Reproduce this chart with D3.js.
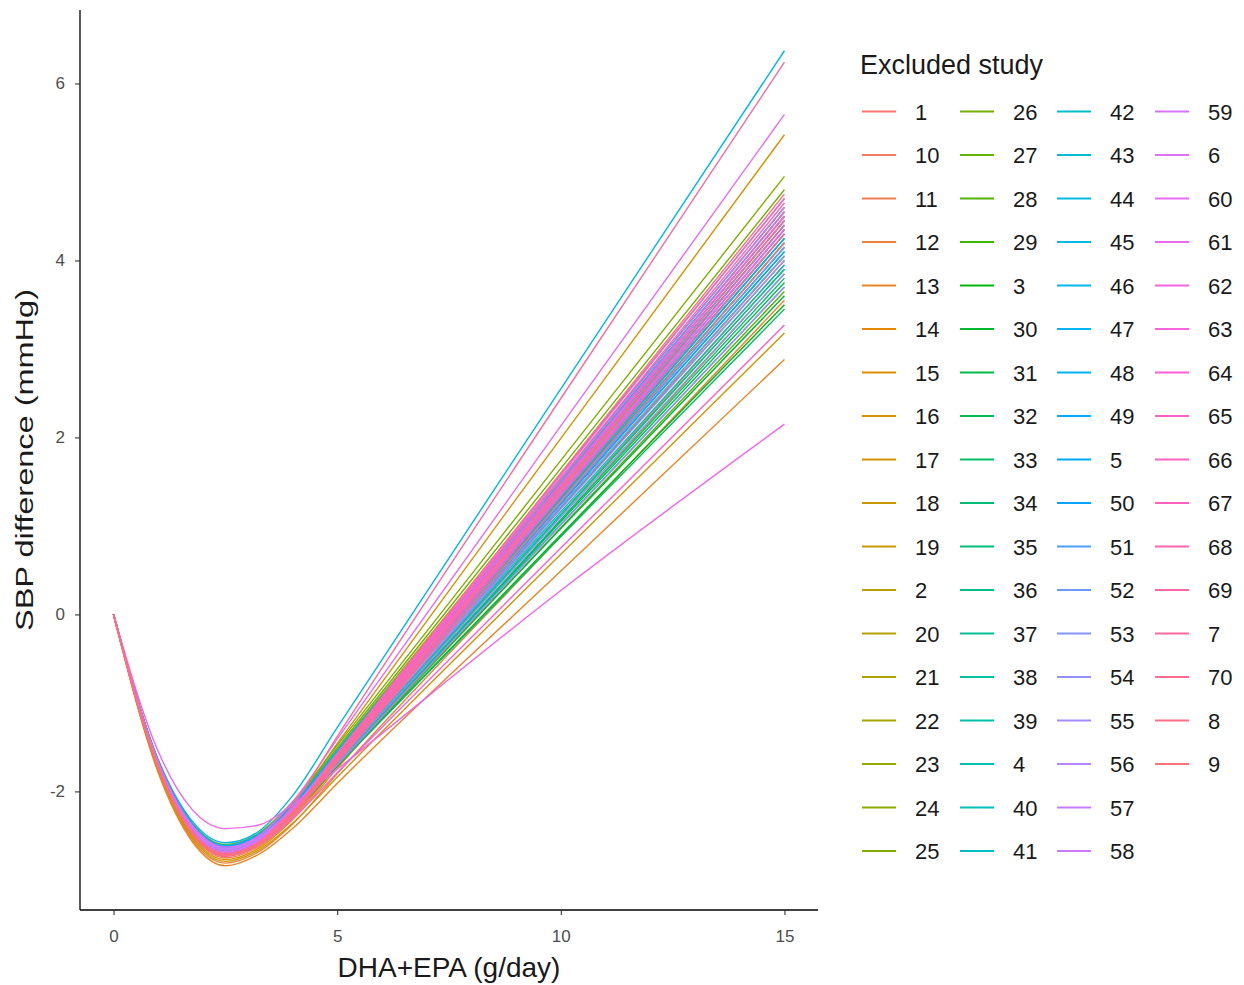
<!DOCTYPE html>
<html>
<head>
<meta charset="utf-8">
<script src="https://cdn.jsdelivr.net/npm/d3@7"></script>
<style>
  body { margin: 0; background: #fff; }
  text { font-family: "Liberation Sans", Arial, sans-serif; }
</style>
</head>
<body>
<div id="chart"></div>
<script>
var doseKnots = [0, 1, 1.75, 2.5, 3.25, 4, 5, 10, 15];

// factor levels, in the (string-sorted) order ggplot uses
var studies = ["1","10","11","12","13","14","15","16","17","18","19","2","20","21","22","23","24","25",
  "26","27","28","29","3","30","31","32","33","34","35","36","37","38","39","4","40","41",
  "42","43","44","45","46","47","48","49","5","50","51","52","53","54","55","56","57","58",
  "59","6","60","61","62","63","64","65","66","67","68","69","7","70","8","9"];

// SBP difference at each knot, one row per excluded study (same order as studies)
var sbpCurves = [
  [0,-1.70,-2.42,-2.68,-2.55,-2.23,-1.64,1.27,4.15],  // 1
  [0,-1.73,-2.47,-2.73,-2.60,-2.28,-1.69,1.20,4.05],  // 10
  [0,-1.74,-2.48,-2.75,-2.62,-2.30,-1.71,1.13,3.95],  // 11
  [0,-1.77,-2.54,-2.81,-2.68,-2.37,-1.80,0.88,3.55],  // 12
  [0,-1.79,-2.56,-2.84,-2.71,-2.42,-1.91,0.49,2.88],  // 13
  [0,-1.70,-2.42,-2.68,-2.55,-2.22,-1.61,1.41,4.40],  // 14
  [0,-1.75,-2.50,-2.77,-2.64,-2.32,-1.74,1.07,3.85],  // 15
  [0,-1.69,-2.40,-2.66,-2.53,-2.16,-1.46,1.99,5.42],  // 16
  [0,-1.73,-2.47,-2.73,-2.60,-2.27,-1.66,1.34,4.30],  // 17
  [0,-1.76,-2.52,-2.79,-2.66,-2.36,-1.84,0.68,3.18],  // 18
  [0,-1.68,-2.39,-2.65,-2.52,-2.19,-1.57,1.47,4.50],  // 19
  [0,-1.67,-2.38,-2.63,-2.50,-2.16,-1.55,1.53,4.60],  // 2
  [0,-1.67,-2.38,-2.63,-2.50,-2.17,-1.58,1.39,4.35],  // 20
  [0,-1.70,-2.42,-2.68,-2.55,-2.22,-1.63,1.32,4.25],  // 21
  [0,-1.66,-2.37,-2.62,-2.49,-2.15,-1.53,1.59,4.70],  // 22
  [0,-1.68,-2.38,-2.64,-2.51,-2.17,-1.56,1.50,4.55],  // 23
  [0,-1.70,-2.42,-2.68,-2.55,-2.22,-1.63,1.29,4.20],  // 24
  [0,-1.65,-2.35,-2.60,-2.47,-2.12,-1.48,1.74,4.95],  // 25
  [0,-1.66,-2.36,-2.61,-2.48,-2.14,-1.51,1.65,4.80],  // 26
  [0,-1.70,-2.42,-2.68,-2.55,-2.24,-1.67,1.12,3.90],  // 27
  [0,-1.71,-2.44,-2.70,-2.57,-2.26,-1.72,0.98,3.65],  // 28
  [0,-1.68,-2.39,-2.65,-2.52,-2.20,-1.63,1.22,4.05],  // 29
  [0,-1.69,-2.40,-2.66,-2.53,-2.23,-1.71,0.90,3.50],  // 3
  [0,-1.68,-2.38,-2.64,-2.51,-2.21,-1.68,0.97,3.60],  // 30
  [0,-1.69,-2.40,-2.66,-2.53,-2.22,-1.68,1.05,3.75],  // 31
  [0,-1.67,-2.38,-2.63,-2.50,-2.19,-1.62,1.20,4.00],  // 32
  [0,-1.68,-2.39,-2.65,-2.52,-2.23,-1.71,0.88,3.45],  // 33
  [0,-1.68,-2.38,-2.64,-2.51,-2.19,-1.62,1.25,4.10],  // 34
  [0,-1.70,-2.42,-2.68,-2.55,-2.24,-1.69,1.07,3.80],  // 35
  [0,-1.67,-2.38,-2.63,-2.50,-2.18,-1.59,1.34,4.25],  // 36
  [0,-1.69,-2.40,-2.66,-2.53,-2.23,-1.68,1.02,3.70],  // 37
  [0,-1.67,-2.38,-2.63,-2.50,-2.17,-1.57,1.45,4.45],  // 38
  [0,-1.68,-2.39,-2.65,-2.52,-2.21,-1.65,1.13,3.90],  // 39
  [0,-1.68,-2.38,-2.64,-2.51,-2.19,-1.61,1.28,4.15],  // 4
  [0,-1.67,-2.38,-2.63,-2.50,-2.18,-1.58,1.37,4.30],  // 40
  [0,-1.69,-2.40,-2.66,-2.53,-2.22,-1.65,1.16,3.95],  // 41
  [0,-1.66,-2.37,-2.62,-2.49,-2.15,-1.54,1.54,4.60],  // 42
  [0,-1.67,-2.38,-2.63,-2.50,-2.17,-1.56,1.48,4.50],  // 43
  [0,-1.68,-2.38,-2.64,-2.51,-2.18,-1.59,1.39,4.35],  // 44
  [0,-1.66,-2.36,-2.61,-2.48,-2.15,-1.54,1.51,4.55],  // 45
  [0,-1.64,-2.33,-2.58,-2.45,-2.05,-1.28,2.55,6.37],  // 46
  [0,-1.67,-2.38,-2.63,-2.50,-2.18,-1.59,1.34,4.25],  // 47
  [0,-1.66,-2.37,-2.62,-2.49,-2.16,-1.57,1.43,4.40],  // 48
  [0,-1.67,-2.38,-2.63,-2.50,-2.18,-1.60,1.31,4.20],  // 49
  [0,-1.68,-2.38,-2.64,-2.51,-2.19,-1.62,1.25,4.10],  // 5
  [0,-1.67,-2.38,-2.63,-2.50,-2.17,-1.57,1.45,4.45],  // 50
  [0,-1.68,-2.38,-2.64,-2.51,-2.18,-1.59,1.36,4.30],  // 51
  [0,-1.68,-2.39,-2.65,-2.52,-2.20,-1.62,1.27,4.15],  // 52
  [0,-1.69,-2.40,-2.66,-2.53,-2.22,-1.67,1.10,3.85],  // 53
  [0,-1.68,-2.39,-2.65,-2.52,-2.20,-1.63,1.22,4.05],  // 54
  [0,-1.69,-2.40,-2.66,-2.53,-2.20,-1.60,1.39,4.35],  // 55
  [0,-1.70,-2.42,-2.68,-2.55,-2.24,-1.70,1.01,3.70],  // 56
  [0,-1.69,-2.40,-2.66,-2.53,-2.21,-1.65,1.19,4.00],  // 57
  [0,-1.68,-2.39,-2.65,-2.52,-2.19,-1.57,1.47,4.50],  // 58
  [0,-1.70,-2.42,-2.68,-2.55,-2.21,-1.58,1.52,4.60],  // 59
  [0,-1.71,-2.44,-2.70,-2.57,-2.23,-1.62,1.43,4.45],  // 6
  [0,-1.67,-2.38,-2.63,-2.50,-2.12,-1.41,2.13,5.65],  // 60
  [0,-1.71,-2.44,-2.70,-2.57,-2.22,-1.58,1.57,4.70],  // 61
  [0,-1.55,-2.20,-2.42,-2.38,-2.15,-1.75,0.27,2.15],  // 62
  [0,-1.72,-2.45,-2.71,-2.58,-2.25,-1.64,1.37,4.35],  // 63
  [0,-1.71,-2.44,-2.70,-2.57,-2.23,-1.60,1.48,4.55],  // 64
  [0,-1.73,-2.47,-2.73,-2.60,-2.31,-1.79,0.75,3.27],  // 65
  [0,-1.72,-2.45,-2.71,-2.58,-2.24,-1.61,1.45,4.50],  // 66
  [0,-1.72,-2.46,-2.72,-2.59,-2.25,-1.64,1.39,4.40],  // 67
  [0,-1.72,-2.45,-2.71,-2.58,-2.23,-1.59,1.54,4.65],  // 68
  [0,-1.73,-2.47,-2.73,-2.60,-2.27,-1.66,1.34,4.30],  // 69
  [0,-1.71,-2.44,-2.70,-2.57,-2.16,-1.38,2.44,6.24],  // 7
  [0,-1.72,-2.45,-2.71,-2.58,-2.23,-1.58,1.60,4.75],  // 70
  [0,-1.73,-2.47,-2.73,-2.60,-2.27,-1.67,1.28,4.20],  // 8
  [0,-1.72,-2.46,-2.72,-2.59,-2.25,-1.63,1.42,4.45]   // 9
];

var xTicks = [0, 5, 10, 15];
var yTicks = [-2, 0, 2, 4, 6];

var fullWidth = 1244;
var fullHeight = 985;
var plot = { left: 80, right: 818, top: 10, bottom: 910 };

// ggplot's default hue palette (polar LUV, c = 100, l = 65)
function hueColor(h) {
    var L = 65, C = 100;
    var hr = h * Math.PI / 180;
    var u = C * Math.cos(hr), v = C * Math.sin(hr);
    var Xn = 95.047, Yn = 100, Zn = 108.883;
    var Y = Yn * Math.pow((L + 16) / 116, 3);
    var den = Xn + 15 * Yn + 3 * Zn;
    var un = 4 * Xn / den, vn = 9 * Yn / den;
    var up = u / (13 * L) + un, vp = v / (13 * L) + vn;
    var X = 9 * Y * up / (4 * vp);
    var Z = -X / 3 - 5 * Y + 3 * Y / vp;
    X /= 100; Y /= 100; Z /= 100;
    var r = 3.240479 * X - 1.537150 * Y - 0.498535 * Z;
    var g = -0.969256 * X + 1.875992 * Y + 0.041556 * Z;
    var b = 0.055648 * X - 0.204043 * Y + 1.057311 * Z;
    function gam(c) {
        c = c <= 0.0031308 ? 12.92 * c : 1.055 * Math.pow(c, 1 / 2.4) - 0.055;
        return Math.round(Math.max(0, Math.min(1, c)) * 255);
    }
    return d3.rgb(gam(r), gam(g), gam(b)).formatHex();
}

var n = studies.length;
var palette = studies.map(function (s, i) { return hueColor(15 + 360 * i / n); });
var color = d3.scaleOrdinal().domain(studies).range(palette);

var x = d3.scaleLinear().domain([-0.75, 15.75]).range([plot.left, plot.right]);
var y = d3.scaleLinear().domain([-3.34, 6.83]).range([plot.bottom, plot.top]);

var svg = d3.select("#chart").append("svg")
    .attr("width", fullWidth).attr("height", fullHeight);

var line = d3.line()
    .x(function (d) { return x(d.dose); })
    .y(function (d) { return y(d.sbp); })
    .curve(d3.curveMonotoneX);

var series = studies.map(function (s, i) {
    return {
        study: s,
        values: doseKnots.map(function (k, j) { return { dose: k, sbp: sbpCurves[i][j] }; })
    };
});

var lineGroup = svg.append("g").attr("class", "lines");
lineGroup.selectAll("path")
    .data(series)
    .enter().append("path")
    .attr("fill", "none")
    .attr("stroke", function (d) { return color(d.study); })
    .attr("stroke-width", 1.4)
    .attr("d", function (d) { return line(d.values); });

// axes (classic theme: lines only on the left and bottom)
var plainFmt = function (d) { return String(d); };
var xAxis = d3.axisBottom(x).tickValues(xTicks).tickSize(5).tickPadding(15).tickFormat(plainFmt);
var yAxis = d3.axisLeft(y).tickValues(yTicks).tickSize(5).tickPadding(10).tickFormat(plainFmt);

var gx = svg.append("g")
    .attr("transform", "translate(0," + plot.bottom + ")")
    .call(xAxis);
var gy = svg.append("g")
    .attr("transform", "translate(" + plot.left + ",0)")
    .call(yAxis);

[gx, gy].forEach(function (g) {
    g.select(".domain").attr("stroke", "#000").attr("stroke-width", 1.3);
    g.selectAll(".tick line").attr("stroke", "#333").attr("stroke-width", 1.1);
    g.selectAll(".tick text")
        .attr("fill", "#4d4d4d")
        .style("font-size", "17px")
        .style("font-family", "'Liberation Sans', Arial, sans-serif");
});
gy.select(".domain").attr("d", "M0," + plot.top + "V" + plot.bottom);
gx.select(".domain").attr("d", "M" + plot.left + ",0H" + plot.right);

svg.append("text")
    .attr("x", (plot.left + plot.right) / 2)
    .attr("y", 977)
    .attr("text-anchor", "middle")
    .style("font-size", "28px")
    .attr("fill", "#1a1a1a")
    .text("DHA+EPA (g/day)");

svg.append("text")
    .attr("transform", "translate(33," + (plot.top + plot.bottom) / 2 + ") rotate(-90)")
    .attr("text-anchor", "middle")
    .attr("textLength", 342)
    .attr("lengthAdjust", "spacingAndGlyphs")
    .style("font-size", "23px")
    .attr("fill", "#1a1a1a")
    .text("SBP difference (mmHg)");

// legend, filled column by column
var legend = svg.append("g").attr("class", "legend");
legend.append("text")
    .attr("x", 860).attr("y", 74)
    .style("font-size", "27px")
    .attr("fill", "#1a1a1a")
    .text("Excluded study");

var perCol = 18;
var colX = [862, 960, 1057, 1155];
var rowY0 = 111.5, rowStep = 43.5;

var items = legend.selectAll("g.item")
    .data(studies)
    .enter().append("g")
    .attr("class", "item")
    .attr("transform", function (d, i) {
        var c = Math.floor(i / perCol), r = i % perCol;
        return "translate(" + colX[c] + "," + (rowY0 + r * rowStep) + ")";
    });

items.append("line")
    .attr("x1", 0).attr("x2", 34)
    .attr("stroke", function (d) { return color(d); })
    .attr("stroke-width", 1.8);

items.append("text")
    .attr("x", 53).attr("y", 8)
    .style("font-size", "22px")
    .attr("fill", "#1a1a1a")
    .text(function (d) { return d; });
</script>
</body>
</html>
